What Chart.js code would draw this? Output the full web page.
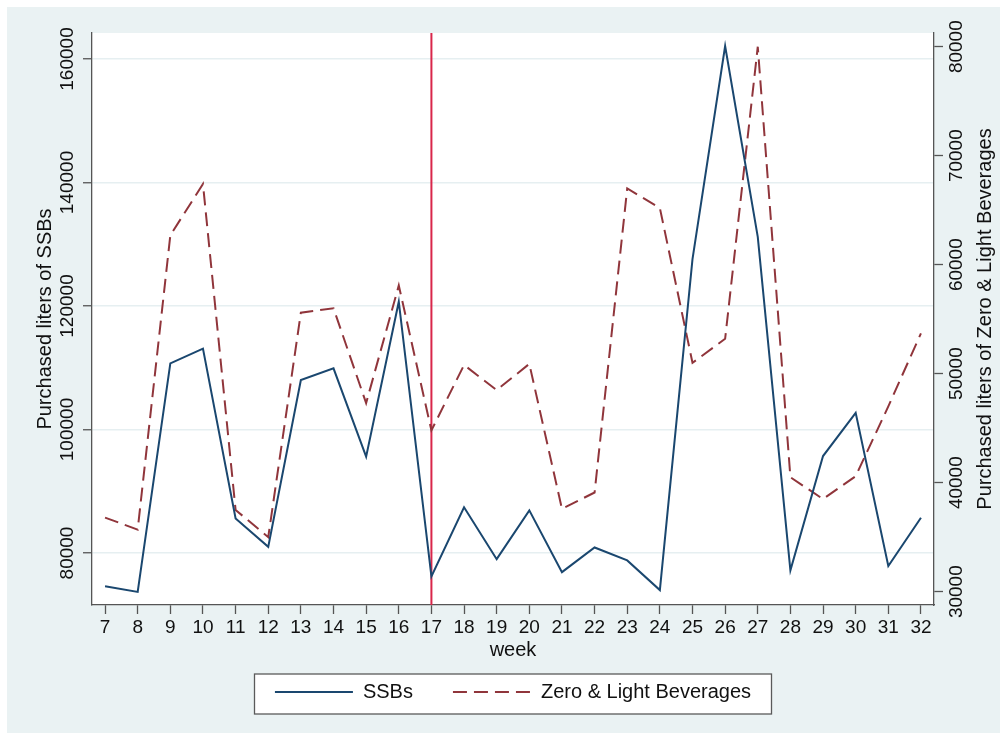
<!DOCTYPE html>
<html>
<head>
<meta charset="utf-8">
<script src="https://cdn.jsdelivr.net/npm/chart.js@4.4.1/dist/chart.umd.min.js"></script>
<style>
  html, body { margin: 0; padding: 0; background: #ffffff; }
  canvas { display: block; }
</style>
</head>
<body>
<canvas id="chart" width="1006" height="735"></canvas>
<script>
// Weekly purchased liters, weeks 7-32
const WEEKS = [7, 8, 9, 10, 11, 12, 13, 14, 15, 16, 17, 18, 19, 20, 21, 22, 23, 24, 25, 26, 27, 28, 29, 30, 31, 32];
const SSB_LITERS = [74600, 73700, 110700, 113100, 85600, 81000, 108000, 109900, 95600, 120700, 76200, 87400, 79000,
                    86900, 76900, 80900, 78800, 74000, 127600, 162100, 131200, 77200, 95700, 102700, 77900, 85700];
const ZERO_LIGHT_LITERS = [36800, 35700, 62700, 67400, 37500, 35000, 55600, 56000, 47300, 58100, 44800, 50800, 48500,
                           50900, 37600, 39100, 67000, 65200, 51000, 53200, 80000, 40500, 38500, 40600, 47000, 53700];
const LEFT_TICKS = [80000, 100000, 120000, 140000, 160000];
const RIGHT_TICKS = [30000, 40000, 50000, 60000, 70000, 80000];
const INTERVENTION_WEEK = 17;
const SERIES_NAMES = ['SSBs', 'Zero & Light Beverages'];
const X_TITLE = 'week';
const LEFT_TITLE = 'Purchased liters of SSBs';
const RIGHT_TITLE = 'Purchased liters of Zero & Light Beverages';

const FONT = "'Liberation Sans', Arial, Helvetica, sans-serif";
const AXIS_COLOR = '#555555';
const GRID_COLOR = '#e6eff1';
const BG_COLOR = '#eaf2f3';

Chart.defaults.font.family = FONT;
Chart.defaults.color = '#111111';

// Graph region, white plot region and framed legend
const backdrop = {
  id: 'backdrop',
  beforeDraw(chart) {
    const { ctx, chartArea: a, width, height, legend } = chart;
    ctx.save();
    ctx.fillStyle = '#ffffff';
    ctx.fillRect(0, 0, width, height);
    ctx.fillStyle = BG_COLOR;
    ctx.fillRect(7, 7, width - 13, height - 9);
    ctx.fillStyle = '#ffffff';
    ctx.fillRect(a.left, a.top, a.right - a.left, a.bottom - a.top);
    if (legend) {
      const cy = legend.top + 42 + 10;
      const cx = (a.left + a.right) / 2;
      ctx.fillStyle = '#ffffff';
      ctx.fillRect(cx - 258.5, cy - 20, 517, 40);
      ctx.strokeStyle = '#5a5a5a';
      ctx.lineWidth = 1.3;
      ctx.strokeRect(cx - 258.5, cy - 20, 517, 40);
    }
    ctx.restore();
  }
};

// Vertical marker at the intervention week
const weekMarker = {
  id: 'weekMarker',
  beforeDatasetsDraw(chart) {
    const { ctx, chartArea: a, scales } = chart;
    const x = scales.x.getPixelForValue(INTERVENTION_WEEK);
    ctx.save();
    ctx.strokeStyle = '#d9264a';
    ctx.lineWidth = 2;
    ctx.beginPath();
    ctx.moveTo(x, a.top);
    ctx.lineTo(x, a.bottom);
    ctx.stroke();
    ctx.restore();
  }
};

// Right axis title, reading bottom to top
const rightTitle = {
  id: 'rightTitle',
  afterDraw(chart) {
    const { ctx, chartArea: a } = chart;
    ctx.save();
    ctx.translate(985, (a.top + a.bottom) / 2);
    ctx.rotate(-Math.PI / 2);
    ctx.font = '20px ' + FONT;
    ctx.fillStyle = '#111111';
    ctx.textAlign = 'center';
    ctx.textBaseline = 'middle';
    ctx.fillText(RIGHT_TITLE, 0, 0);
    ctx.restore();
  }
};

const fixedTicks = (values) => (scale) => { scale.ticks = values.map(v => ({ value: v })); };

// Legend keys as line samples carrying each series' dash pattern
const lineKeys = (chart) => {
  const items = Chart.defaults.plugins.legend.labels.generateLabels(chart);
  return items.map((item) => {
    const ds = chart.data.datasets[item.datasetIndex];
    item.lineDash = ds.borderDash || [];
    item.lineWidth = ds.borderWidth;
    item.strokeStyle = ds.borderColor;
    item.pointStyle = 'line';
    return item;
  });
};

new Chart(document.getElementById('chart'), {
  type: 'line',
  data: {
    datasets: [
      {
        label: SERIES_NAMES[0],
        data: WEEKS.map((w, i) => ({ x: w, y: SSB_LITERS[i] })),
        yAxisID: 'y',
        borderColor: '#1a476f',
        backgroundColor: '#1a476f',
        borderWidth: 2,
        pointRadius: 0,
        pointStyle: 'line',
        tension: 0,
        fill: false
      },
      {
        label: SERIES_NAMES[1],
        data: WEEKS.map((w, i) => ({ x: w, y: ZERO_LIGHT_LITERS[i] })),
        yAxisID: 'y2',
        borderColor: '#90353b',
        backgroundColor: '#90353b',
        borderWidth: 2,
        borderDash: [14, 7],
        pointRadius: 0,
        pointStyle: 'line',
        tension: 0,
        fill: false
      }
    ]
  },
  options: {
    responsive: false,
    animation: false,
    events: [],
    layout: { padding: { left: 0, right: 0, top: 33, bottom: 23 } },
    plugins: {
      tooltip: { enabled: false },
      title: { display: false },
      legend: {
        position: 'bottom',
        fullSize: false,
        labels: {
          usePointStyle: true,
          pointStyleWidth: 78,
          padding: 40,
          color: '#111111',
          font: { size: 20 },
          generateLabels: lineKeys
        }
      }
    },
    scales: {
      x: {
        type: 'linear',
        min: 6.6,
        max: 32.4,
        afterBuildTicks: fixedTicks(WEEKS),
        afterFit: (s) => { s.height = 37; },
        grid: { drawOnChartArea: false, drawTicks: true, tickLength: 9, tickColor: AXIS_COLOR, tickWidth: 1.3 },
        border: { display: true, color: AXIS_COLOR, width: 1.3 },
        ticks: { autoSkip: false, minRotation: 0, maxRotation: 0, padding: 2, font: { size: 19 }, color: '#111111',
                 callback: (v) => String(v) },
        title: { display: true, text: X_TITLE, font: { size: 20 }, color: '#111111', padding: { top: 0, bottom: -20 } }
      },
      y: {
        type: 'linear',
        position: 'left',
        min: 71580,
        max: 164210,
        afterBuildTicks: fixedTicks(LEFT_TICKS),
        afterFit: (s) => { s.width = 92; },
        grid: { drawOnChartArea: true, color: GRID_COLOR, lineWidth: 1.5, drawTicks: true, tickLength: 9,
                tickColor: AXIS_COLOR, tickWidth: 1.3 },
        border: { display: true, color: AXIS_COLOR, width: 1.3 },
        ticks: { autoSkip: false, minRotation: 90, maxRotation: 90, crossAlign: 'center', padding: -16.7,
                 font: { size: 19 }, color: '#111111', callback: (v) => String(v) },
        title: { display: true, text: LEFT_TITLE, font: { size: 20 }, color: '#111111', padding: { top: 33.8, bottom: 0 } }
      },
      y2: {
        type: 'linear',
        position: 'right',
        min: 28780,
        max: 81257,
        afterBuildTicks: fixedTicks(RIGHT_TICKS),
        afterFit: (s) => { s.width = 72; },
        grid: { drawOnChartArea: false, drawTicks: true, tickLength: 9, tickColor: AXIS_COLOR, tickWidth: 1.3 },
        border: { display: true, color: AXIS_COLOR, width: 1.3 },
        ticks: { autoSkip: false, minRotation: 90, maxRotation: 90, crossAlign: 'center', padding: -12.7,
                 font: { size: 19 }, color: '#111111', callback: (v) => String(v) },
        title: { display: false }
      }
    }
  },
  plugins: [backdrop, weekMarker, rightTitle]
});
</script>
</body>
</html>
